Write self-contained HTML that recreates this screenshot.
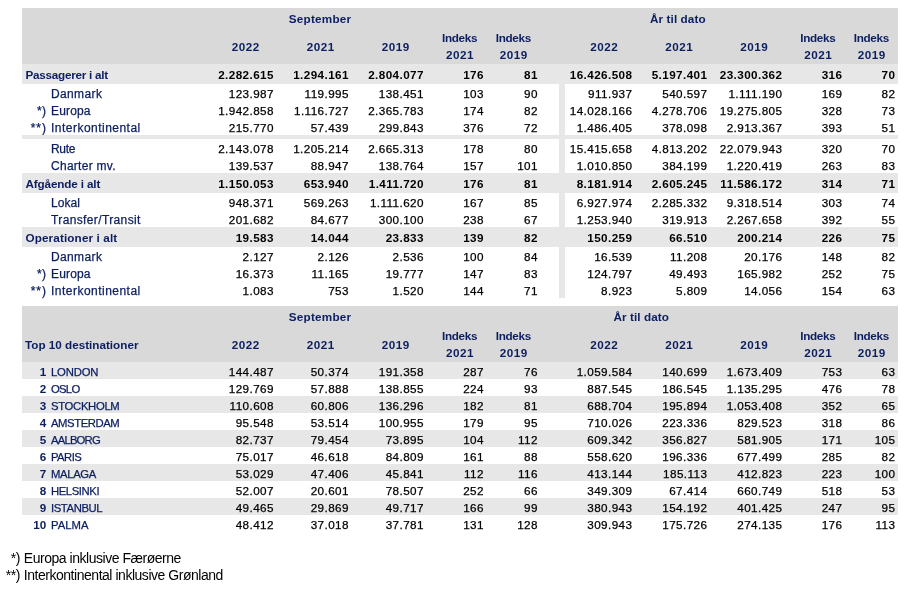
<!DOCTYPE html>
<html lang="da"><head><meta charset="utf-8"><title>Trafiktal</title>
<style>
html,body{margin:0;padding:0;background:#fff;}
body{width:911px;height:594px;position:relative;overflow:hidden;font-family:"Liberation Sans",sans-serif;}
.bx{position:absolute;}
.t{position:absolute;white-space:nowrap;color:#000;height:20px;line-height:20px;}
.n{font-size:11.7px;letter-spacing:0.42px;-webkit-text-stroke:0.25px #000;}
.nb{font-size:11.7px;font-weight:bold;letter-spacing:0.42px;}
.l{font-size:12.0px;color:#0c1e60;-webkit-text-stroke:0.25px #0c1e60;}
.lu{font-size:11.3px;color:#0c1e60;-webkit-text-stroke:0.25px #0c1e60;}
.lb{font-size:11.7px;font-weight:bold;color:#0c1e60;}
.hb{font-size:11.7px;font-weight:bold;color:#0c1e60;}
.f{font-size:14.0px;color:#000;letter-spacing:-0.47px;}
</style></head>
<body>
<div class="bx" style="left:22px;top:8px;width:876px;height:56px;background:#d9d9d9"></div>
<div class="t hb" style="top:9px;letter-spacing:0.250px;left:260.12px;width:120px;text-align:center;">September</div>
<div class="t hb" style="top:9px;letter-spacing:0.100px;left:617.85px;width:120px;text-align:center;">År til dato</div>
<div class="t hb" style="top:37px;letter-spacing:0.433px;left:185.72px;width:120px;text-align:center;">2022</div>
<div class="t hb" style="top:37px;letter-spacing:0.433px;left:544.22px;width:120px;text-align:center;">2022</div>
<div class="t hb" style="top:37px;letter-spacing:0.433px;left:260.72px;width:120px;text-align:center;">2021</div>
<div class="t hb" style="top:37px;letter-spacing:0.433px;left:619.22px;width:120px;text-align:center;">2021</div>
<div class="t hb" style="top:37px;letter-spacing:0.433px;left:335.72px;width:120px;text-align:center;">2019</div>
<div class="t hb" style="top:37px;letter-spacing:0.433px;left:694.22px;width:120px;text-align:center;">2019</div>
<div class="t hb" style="top:28px;letter-spacing:-0.280px;left:399.61px;width:120px;text-align:center;">Indeks</div>
<div class="t hb" style="top:45px;letter-spacing:0.433px;left:399.97px;width:120px;text-align:center;">2021</div>
<div class="t hb" style="top:28px;letter-spacing:-0.280px;left:453.36px;width:120px;text-align:center;">Indeks</div>
<div class="t hb" style="top:45px;letter-spacing:0.433px;left:453.72px;width:120px;text-align:center;">2019</div>
<div class="t hb" style="top:28px;letter-spacing:-0.280px;left:757.86px;width:120px;text-align:center;">Indeks</div>
<div class="t hb" style="top:45px;letter-spacing:0.433px;left:758.22px;width:120px;text-align:center;">2021</div>
<div class="t hb" style="top:28px;letter-spacing:-0.280px;left:811.36px;width:120px;text-align:center;">Indeks</div>
<div class="t hb" style="top:45px;letter-spacing:0.433px;left:811.72px;width:120px;text-align:center;">2019</div>
<div class="bx" style="left:22px;top:64px;width:876px;height:20px;background:#e7e7e7"></div>
<div class="t lb" style="top:65px;letter-spacing:-0.253px;left:25.5px;">Passagerer i alt</div>
<div class="t nb" style="top:65px;right:637.08px;text-align:right;">2.282.615</div>
<div class="t nb" style="top:65px;right:562.08px;text-align:right;">1.294.161</div>
<div class="t nb" style="top:65px;right:487.08px;text-align:right;">2.804.077</div>
<div class="t nb" style="top:65px;right:427.08px;text-align:right;">176</div>
<div class="t nb" style="top:65px;right:373.08px;text-align:right;">81</div>
<div class="t nb" style="top:65px;right:278.58px;text-align:right;">16.426.508</div>
<div class="t nb" style="top:65px;right:203.58px;text-align:right;">5.197.401</div>
<div class="t nb" style="top:65px;right:128.58px;text-align:right;">23.300.362</div>
<div class="t nb" style="top:65px;right:68.58px;text-align:right;">316</div>
<div class="t nb" style="top:65px;right:15.58px;text-align:right;">70</div>
<div class="t l" style="top:84px;letter-spacing:0.367px;left:51px;">Danmark</div>
<div class="t n" style="top:84px;right:637.08px;text-align:right;">123.987</div>
<div class="t n" style="top:84px;right:562.08px;text-align:right;">119.995</div>
<div class="t n" style="top:84px;right:487.08px;text-align:right;">138.451</div>
<div class="t n" style="top:84px;right:427.08px;text-align:right;">103</div>
<div class="t n" style="top:84px;right:373.08px;text-align:right;">90</div>
<div class="t n" style="top:84px;right:278.58px;text-align:right;">911.937</div>
<div class="t n" style="top:84px;right:203.58px;text-align:right;">540.597</div>
<div class="t n" style="top:84px;right:128.58px;text-align:right;">1.111.190</div>
<div class="t n" style="top:84px;right:68.58px;text-align:right;">169</div>
<div class="t n" style="top:84px;right:15.58px;text-align:right;">82</div>
<div class="t l" style="top:101px;letter-spacing:0.300px;right:864.7px;text-align:right;">*)</div>
<div class="t l" style="top:101px;letter-spacing:0.160px;left:51px;">Europa</div>
<div class="t n" style="top:101px;right:637.08px;text-align:right;">1.942.858</div>
<div class="t n" style="top:101px;right:562.08px;text-align:right;">1.116.727</div>
<div class="t n" style="top:101px;right:487.08px;text-align:right;">2.365.783</div>
<div class="t n" style="top:101px;right:427.08px;text-align:right;">174</div>
<div class="t n" style="top:101px;right:373.08px;text-align:right;">82</div>
<div class="t n" style="top:101px;right:278.58px;text-align:right;">14.028.166</div>
<div class="t n" style="top:101px;right:203.58px;text-align:right;">4.278.706</div>
<div class="t n" style="top:101px;right:128.58px;text-align:right;">19.275.805</div>
<div class="t n" style="top:101px;right:68.58px;text-align:right;">328</div>
<div class="t n" style="top:101px;right:15.58px;text-align:right;">73</div>
<div class="t l" style="top:118px;letter-spacing:1.000px;right:864.0px;text-align:right;">**)</div>
<div class="t l" style="top:118px;letter-spacing:0.480px;left:51px;">Interkontinental</div>
<div class="t n" style="top:118px;right:637.08px;text-align:right;">215.770</div>
<div class="t n" style="top:118px;right:562.08px;text-align:right;">57.439</div>
<div class="t n" style="top:118px;right:487.08px;text-align:right;">299.843</div>
<div class="t n" style="top:118px;right:427.08px;text-align:right;">376</div>
<div class="t n" style="top:118px;right:373.08px;text-align:right;">72</div>
<div class="t n" style="top:118px;right:278.58px;text-align:right;">1.486.405</div>
<div class="t n" style="top:118px;right:203.58px;text-align:right;">378.098</div>
<div class="t n" style="top:118px;right:128.58px;text-align:right;">2.913.367</div>
<div class="t n" style="top:118px;right:68.58px;text-align:right;">393</div>
<div class="t n" style="top:118px;right:15.58px;text-align:right;">51</div>
<div class="bx" style="left:22px;top:135px;width:876px;height:4px;background:#e7e7e7"></div>
<div class="t l" style="top:139px;letter-spacing:-0.333px;left:51px;">Rute</div>
<div class="t n" style="top:139px;right:637.08px;text-align:right;">2.143.078</div>
<div class="t n" style="top:139px;right:562.08px;text-align:right;">1.205.214</div>
<div class="t n" style="top:139px;right:487.08px;text-align:right;">2.665.313</div>
<div class="t n" style="top:139px;right:427.08px;text-align:right;">178</div>
<div class="t n" style="top:139px;right:373.08px;text-align:right;">80</div>
<div class="t n" style="top:139px;right:278.58px;text-align:right;">15.415.658</div>
<div class="t n" style="top:139px;right:203.58px;text-align:right;">4.813.202</div>
<div class="t n" style="top:139px;right:128.58px;text-align:right;">22.079.943</div>
<div class="t n" style="top:139px;right:68.58px;text-align:right;">320</div>
<div class="t n" style="top:139px;right:15.58px;text-align:right;">70</div>
<div class="t l" style="top:156px;letter-spacing:0.270px;left:51px;">Charter mv.</div>
<div class="t n" style="top:156px;right:637.08px;text-align:right;">139.537</div>
<div class="t n" style="top:156px;right:562.08px;text-align:right;">88.947</div>
<div class="t n" style="top:156px;right:487.08px;text-align:right;">138.764</div>
<div class="t n" style="top:156px;right:427.08px;text-align:right;">157</div>
<div class="t n" style="top:156px;right:373.08px;text-align:right;">101</div>
<div class="t n" style="top:156px;right:278.58px;text-align:right;">1.010.850</div>
<div class="t n" style="top:156px;right:203.58px;text-align:right;">384.199</div>
<div class="t n" style="top:156px;right:128.58px;text-align:right;">1.220.419</div>
<div class="t n" style="top:156px;right:68.58px;text-align:right;">263</div>
<div class="t n" style="top:156px;right:15.58px;text-align:right;">83</div>
<div class="bx" style="left:22px;top:173px;width:876px;height:20px;background:#e7e7e7"></div>
<div class="t lb" style="top:174px;letter-spacing:-0.138px;left:25.5px;">Afgående i alt</div>
<div class="t nb" style="top:174px;right:637.08px;text-align:right;">1.150.053</div>
<div class="t nb" style="top:174px;right:562.08px;text-align:right;">653.940</div>
<div class="t nb" style="top:174px;right:487.08px;text-align:right;">1.411.720</div>
<div class="t nb" style="top:174px;right:427.08px;text-align:right;">176</div>
<div class="t nb" style="top:174px;right:373.08px;text-align:right;">81</div>
<div class="t nb" style="top:174px;right:278.58px;text-align:right;">8.181.914</div>
<div class="t nb" style="top:174px;right:203.58px;text-align:right;">2.605.245</div>
<div class="t nb" style="top:174px;right:128.58px;text-align:right;">11.586.172</div>
<div class="t nb" style="top:174px;right:68.58px;text-align:right;">314</div>
<div class="t nb" style="top:174px;right:15.58px;text-align:right;">71</div>
<div class="t l" style="top:193px;letter-spacing:0.075px;left:51px;">Lokal</div>
<div class="t n" style="top:193px;right:637.08px;text-align:right;">948.371</div>
<div class="t n" style="top:193px;right:562.08px;text-align:right;">569.263</div>
<div class="t n" style="top:193px;right:487.08px;text-align:right;">1.111.620</div>
<div class="t n" style="top:193px;right:427.08px;text-align:right;">167</div>
<div class="t n" style="top:193px;right:373.08px;text-align:right;">85</div>
<div class="t n" style="top:193px;right:278.58px;text-align:right;">6.927.974</div>
<div class="t n" style="top:193px;right:203.58px;text-align:right;">2.285.332</div>
<div class="t n" style="top:193px;right:128.58px;text-align:right;">9.318.514</div>
<div class="t n" style="top:193px;right:68.58px;text-align:right;">303</div>
<div class="t n" style="top:193px;right:15.58px;text-align:right;">74</div>
<div class="t l" style="top:210px;letter-spacing:0.373px;left:51px;">Transfer/Transit</div>
<div class="t n" style="top:210px;right:637.08px;text-align:right;">201.682</div>
<div class="t n" style="top:210px;right:562.08px;text-align:right;">84.677</div>
<div class="t n" style="top:210px;right:487.08px;text-align:right;">300.100</div>
<div class="t n" style="top:210px;right:427.08px;text-align:right;">238</div>
<div class="t n" style="top:210px;right:373.08px;text-align:right;">67</div>
<div class="t n" style="top:210px;right:278.58px;text-align:right;">1.253.940</div>
<div class="t n" style="top:210px;right:203.58px;text-align:right;">319.913</div>
<div class="t n" style="top:210px;right:128.58px;text-align:right;">2.267.658</div>
<div class="t n" style="top:210px;right:68.58px;text-align:right;">392</div>
<div class="t n" style="top:210px;right:15.58px;text-align:right;">55</div>
<div class="bx" style="left:22px;top:227px;width:876px;height:20px;background:#e7e7e7"></div>
<div class="t lb" style="top:228px;letter-spacing:0.131px;left:25.5px;">Operationer i alt</div>
<div class="t nb" style="top:228px;right:637.08px;text-align:right;">19.583</div>
<div class="t nb" style="top:228px;right:562.08px;text-align:right;">14.044</div>
<div class="t nb" style="top:228px;right:487.08px;text-align:right;">23.833</div>
<div class="t nb" style="top:228px;right:427.08px;text-align:right;">139</div>
<div class="t nb" style="top:228px;right:373.08px;text-align:right;">82</div>
<div class="t nb" style="top:228px;right:278.58px;text-align:right;">150.259</div>
<div class="t nb" style="top:228px;right:203.58px;text-align:right;">66.510</div>
<div class="t nb" style="top:228px;right:128.58px;text-align:right;">200.214</div>
<div class="t nb" style="top:228px;right:68.58px;text-align:right;">226</div>
<div class="t nb" style="top:228px;right:15.58px;text-align:right;">75</div>
<div class="t l" style="top:247px;letter-spacing:0.367px;left:51px;">Danmark</div>
<div class="t n" style="top:247px;right:637.08px;text-align:right;">2.127</div>
<div class="t n" style="top:247px;right:562.08px;text-align:right;">2.126</div>
<div class="t n" style="top:247px;right:487.08px;text-align:right;">2.536</div>
<div class="t n" style="top:247px;right:427.08px;text-align:right;">100</div>
<div class="t n" style="top:247px;right:373.08px;text-align:right;">84</div>
<div class="t n" style="top:247px;right:278.58px;text-align:right;">16.539</div>
<div class="t n" style="top:247px;right:203.58px;text-align:right;">11.208</div>
<div class="t n" style="top:247px;right:128.58px;text-align:right;">20.176</div>
<div class="t n" style="top:247px;right:68.58px;text-align:right;">148</div>
<div class="t n" style="top:247px;right:15.58px;text-align:right;">82</div>
<div class="t l" style="top:264px;letter-spacing:0.300px;right:864.7px;text-align:right;">*)</div>
<div class="t l" style="top:264px;letter-spacing:0.160px;left:51px;">Europa</div>
<div class="t n" style="top:264px;right:637.08px;text-align:right;">16.373</div>
<div class="t n" style="top:264px;right:562.08px;text-align:right;">11.165</div>
<div class="t n" style="top:264px;right:487.08px;text-align:right;">19.777</div>
<div class="t n" style="top:264px;right:427.08px;text-align:right;">147</div>
<div class="t n" style="top:264px;right:373.08px;text-align:right;">83</div>
<div class="t n" style="top:264px;right:278.58px;text-align:right;">124.797</div>
<div class="t n" style="top:264px;right:203.58px;text-align:right;">49.493</div>
<div class="t n" style="top:264px;right:128.58px;text-align:right;">165.982</div>
<div class="t n" style="top:264px;right:68.58px;text-align:right;">252</div>
<div class="t n" style="top:264px;right:15.58px;text-align:right;">75</div>
<div class="t l" style="top:281px;letter-spacing:1.000px;right:864.0px;text-align:right;">**)</div>
<div class="t l" style="top:281px;letter-spacing:0.480px;left:51px;">Interkontinental</div>
<div class="t n" style="top:281px;right:637.08px;text-align:right;">1.083</div>
<div class="t n" style="top:281px;right:562.08px;text-align:right;">753</div>
<div class="t n" style="top:281px;right:487.08px;text-align:right;">1.520</div>
<div class="t n" style="top:281px;right:427.08px;text-align:right;">144</div>
<div class="t n" style="top:281px;right:373.08px;text-align:right;">71</div>
<div class="t n" style="top:281px;right:278.58px;text-align:right;">8.923</div>
<div class="t n" style="top:281px;right:203.58px;text-align:right;">5.809</div>
<div class="t n" style="top:281px;right:128.58px;text-align:right;">14.056</div>
<div class="t n" style="top:281px;right:68.58px;text-align:right;">154</div>
<div class="t n" style="top:281px;right:15.58px;text-align:right;">63</div>
<div class="bx" style="left:559px;top:84px;width:6px;height:51px;background:#e7e7e7"></div>
<div class="bx" style="left:559px;top:139px;width:6px;height:34px;background:#e7e7e7"></div>
<div class="bx" style="left:559px;top:193px;width:6px;height:34px;background:#e7e7e7"></div>
<div class="bx" style="left:559px;top:247px;width:6px;height:51px;background:#e7e7e7"></div>
<div class="bx" style="left:22px;top:306px;width:876px;height:56px;background:#d9d9d9"></div>
<div class="t hb" style="top:307px;letter-spacing:0.250px;left:260.12px;width:120px;text-align:center;">September</div>
<div class="t hb" style="top:307px;letter-spacing:0.100px;left:581.25px;width:120px;text-align:center;">År til dato</div>
<div class="t hb" style="top:335px;letter-spacing:0.433px;left:185.72px;width:120px;text-align:center;">2022</div>
<div class="t hb" style="top:335px;letter-spacing:0.433px;left:544.22px;width:120px;text-align:center;">2022</div>
<div class="t hb" style="top:335px;letter-spacing:0.433px;left:260.72px;width:120px;text-align:center;">2021</div>
<div class="t hb" style="top:335px;letter-spacing:0.433px;left:619.22px;width:120px;text-align:center;">2021</div>
<div class="t hb" style="top:335px;letter-spacing:0.433px;left:335.72px;width:120px;text-align:center;">2019</div>
<div class="t hb" style="top:335px;letter-spacing:0.433px;left:694.22px;width:120px;text-align:center;">2019</div>
<div class="t hb" style="top:326px;letter-spacing:-0.280px;left:399.61px;width:120px;text-align:center;">Indeks</div>
<div class="t hb" style="top:343px;letter-spacing:0.433px;left:399.97px;width:120px;text-align:center;">2021</div>
<div class="t hb" style="top:326px;letter-spacing:-0.280px;left:453.36px;width:120px;text-align:center;">Indeks</div>
<div class="t hb" style="top:343px;letter-spacing:0.433px;left:453.72px;width:120px;text-align:center;">2019</div>
<div class="t hb" style="top:326px;letter-spacing:-0.280px;left:757.86px;width:120px;text-align:center;">Indeks</div>
<div class="t hb" style="top:343px;letter-spacing:0.433px;left:758.22px;width:120px;text-align:center;">2021</div>
<div class="t hb" style="top:326px;letter-spacing:-0.280px;left:811.36px;width:120px;text-align:center;">Indeks</div>
<div class="t hb" style="top:343px;letter-spacing:0.433px;left:811.72px;width:120px;text-align:center;">2019</div>
<div class="t hb" style="top:335px;letter-spacing:0.000px;left:25px;">Top 10 destinationer</div>
<div class="bx" style="left:22px;top:362px;width:876px;height:17px;background:#e7e7e7"></div>
<div class="t lb" style="top:362px;right:864.7px;text-align:right;">1</div>
<div class="t lu" style="top:362px;letter-spacing:-0.180px;left:51px;">LONDON</div>
<div class="t n" style="top:362px;right:637.08px;text-align:right;">144.487</div>
<div class="t n" style="top:362px;right:562.08px;text-align:right;">50.374</div>
<div class="t n" style="top:362px;right:487.08px;text-align:right;">191.358</div>
<div class="t n" style="top:362px;right:427.08px;text-align:right;">287</div>
<div class="t n" style="top:362px;right:373.08px;text-align:right;">76</div>
<div class="t n" style="top:362px;right:278.58px;text-align:right;">1.059.584</div>
<div class="t n" style="top:362px;right:203.58px;text-align:right;">140.699</div>
<div class="t n" style="top:362px;right:128.58px;text-align:right;">1.673.409</div>
<div class="t n" style="top:362px;right:68.58px;text-align:right;">753</div>
<div class="t n" style="top:362px;right:15.58px;text-align:right;">63</div>
<div class="t lb" style="top:379px;right:864.7px;text-align:right;">2</div>
<div class="t lu" style="top:379px;letter-spacing:-0.733px;left:51px;">OSLO</div>
<div class="t n" style="top:379px;right:637.08px;text-align:right;">129.769</div>
<div class="t n" style="top:379px;right:562.08px;text-align:right;">57.888</div>
<div class="t n" style="top:379px;right:487.08px;text-align:right;">138.855</div>
<div class="t n" style="top:379px;right:427.08px;text-align:right;">224</div>
<div class="t n" style="top:379px;right:373.08px;text-align:right;">93</div>
<div class="t n" style="top:379px;right:278.58px;text-align:right;">887.545</div>
<div class="t n" style="top:379px;right:203.58px;text-align:right;">186.545</div>
<div class="t n" style="top:379px;right:128.58px;text-align:right;">1.135.295</div>
<div class="t n" style="top:379px;right:68.58px;text-align:right;">476</div>
<div class="t n" style="top:379px;right:15.58px;text-align:right;">78</div>
<div class="bx" style="left:22px;top:396px;width:876px;height:17px;background:#e7e7e7"></div>
<div class="t lb" style="top:396px;right:864.7px;text-align:right;">3</div>
<div class="t lu" style="top:396px;letter-spacing:-0.325px;left:51px;">STOCKHOLM</div>
<div class="t n" style="top:396px;right:637.08px;text-align:right;">110.608</div>
<div class="t n" style="top:396px;right:562.08px;text-align:right;">60.806</div>
<div class="t n" style="top:396px;right:487.08px;text-align:right;">136.296</div>
<div class="t n" style="top:396px;right:427.08px;text-align:right;">182</div>
<div class="t n" style="top:396px;right:373.08px;text-align:right;">81</div>
<div class="t n" style="top:396px;right:278.58px;text-align:right;">688.704</div>
<div class="t n" style="top:396px;right:203.58px;text-align:right;">195.894</div>
<div class="t n" style="top:396px;right:128.58px;text-align:right;">1.053.408</div>
<div class="t n" style="top:396px;right:68.58px;text-align:right;">352</div>
<div class="t n" style="top:396px;right:15.58px;text-align:right;">65</div>
<div class="t lb" style="top:413px;right:864.7px;text-align:right;">4</div>
<div class="t lu" style="top:413px;letter-spacing:-0.438px;left:51px;">AMSTERDAM</div>
<div class="t n" style="top:413px;right:637.08px;text-align:right;">95.548</div>
<div class="t n" style="top:413px;right:562.08px;text-align:right;">53.514</div>
<div class="t n" style="top:413px;right:487.08px;text-align:right;">100.955</div>
<div class="t n" style="top:413px;right:427.08px;text-align:right;">179</div>
<div class="t n" style="top:413px;right:373.08px;text-align:right;">95</div>
<div class="t n" style="top:413px;right:278.58px;text-align:right;">710.026</div>
<div class="t n" style="top:413px;right:203.58px;text-align:right;">223.336</div>
<div class="t n" style="top:413px;right:128.58px;text-align:right;">829.523</div>
<div class="t n" style="top:413px;right:68.58px;text-align:right;">318</div>
<div class="t n" style="top:413px;right:15.58px;text-align:right;">86</div>
<div class="bx" style="left:22px;top:430px;width:876px;height:17px;background:#e7e7e7"></div>
<div class="t lb" style="top:430px;right:864.7px;text-align:right;">5</div>
<div class="t lu" style="top:430px;letter-spacing:-0.817px;left:51px;">AALBORG</div>
<div class="t n" style="top:430px;right:637.08px;text-align:right;">82.737</div>
<div class="t n" style="top:430px;right:562.08px;text-align:right;">79.454</div>
<div class="t n" style="top:430px;right:487.08px;text-align:right;">73.895</div>
<div class="t n" style="top:430px;right:427.08px;text-align:right;">104</div>
<div class="t n" style="top:430px;right:373.08px;text-align:right;">112</div>
<div class="t n" style="top:430px;right:278.58px;text-align:right;">609.342</div>
<div class="t n" style="top:430px;right:203.58px;text-align:right;">356.827</div>
<div class="t n" style="top:430px;right:128.58px;text-align:right;">581.905</div>
<div class="t n" style="top:430px;right:68.58px;text-align:right;">171</div>
<div class="t n" style="top:430px;right:15.58px;text-align:right;">105</div>
<div class="t lb" style="top:447px;right:864.7px;text-align:right;">6</div>
<div class="t lu" style="top:447px;letter-spacing:-0.575px;left:51px;">PARIS</div>
<div class="t n" style="top:447px;right:637.08px;text-align:right;">75.017</div>
<div class="t n" style="top:447px;right:562.08px;text-align:right;">46.618</div>
<div class="t n" style="top:447px;right:487.08px;text-align:right;">84.809</div>
<div class="t n" style="top:447px;right:427.08px;text-align:right;">161</div>
<div class="t n" style="top:447px;right:373.08px;text-align:right;">88</div>
<div class="t n" style="top:447px;right:278.58px;text-align:right;">558.620</div>
<div class="t n" style="top:447px;right:203.58px;text-align:right;">196.336</div>
<div class="t n" style="top:447px;right:128.58px;text-align:right;">677.499</div>
<div class="t n" style="top:447px;right:68.58px;text-align:right;">285</div>
<div class="t n" style="top:447px;right:15.58px;text-align:right;">82</div>
<div class="bx" style="left:22px;top:464px;width:876px;height:17px;background:#e7e7e7"></div>
<div class="t lb" style="top:464px;right:864.7px;text-align:right;">7</div>
<div class="t lu" style="top:464px;letter-spacing:-0.360px;left:51px;">MALAGA</div>
<div class="t n" style="top:464px;right:637.08px;text-align:right;">53.029</div>
<div class="t n" style="top:464px;right:562.08px;text-align:right;">47.406</div>
<div class="t n" style="top:464px;right:487.08px;text-align:right;">45.841</div>
<div class="t n" style="top:464px;right:427.08px;text-align:right;">112</div>
<div class="t n" style="top:464px;right:373.08px;text-align:right;">116</div>
<div class="t n" style="top:464px;right:278.58px;text-align:right;">413.144</div>
<div class="t n" style="top:464px;right:203.58px;text-align:right;">185.113</div>
<div class="t n" style="top:464px;right:128.58px;text-align:right;">412.823</div>
<div class="t n" style="top:464px;right:68.58px;text-align:right;">223</div>
<div class="t n" style="top:464px;right:15.58px;text-align:right;">100</div>
<div class="t lb" style="top:481px;right:864.7px;text-align:right;">8</div>
<div class="t lu" style="top:481px;letter-spacing:-0.414px;left:51px;">HELSINKI</div>
<div class="t n" style="top:481px;right:637.08px;text-align:right;">52.007</div>
<div class="t n" style="top:481px;right:562.08px;text-align:right;">20.601</div>
<div class="t n" style="top:481px;right:487.08px;text-align:right;">78.507</div>
<div class="t n" style="top:481px;right:427.08px;text-align:right;">252</div>
<div class="t n" style="top:481px;right:373.08px;text-align:right;">66</div>
<div class="t n" style="top:481px;right:278.58px;text-align:right;">349.309</div>
<div class="t n" style="top:481px;right:203.58px;text-align:right;">67.414</div>
<div class="t n" style="top:481px;right:128.58px;text-align:right;">660.749</div>
<div class="t n" style="top:481px;right:68.58px;text-align:right;">518</div>
<div class="t n" style="top:481px;right:15.58px;text-align:right;">53</div>
<div class="bx" style="left:22px;top:498px;width:876px;height:17px;background:#e7e7e7"></div>
<div class="t lb" style="top:498px;right:864.7px;text-align:right;">9</div>
<div class="t lu" style="top:498px;letter-spacing:-0.400px;left:51px;">ISTANBUL</div>
<div class="t n" style="top:498px;right:637.08px;text-align:right;">49.465</div>
<div class="t n" style="top:498px;right:562.08px;text-align:right;">29.869</div>
<div class="t n" style="top:498px;right:487.08px;text-align:right;">49.717</div>
<div class="t n" style="top:498px;right:427.08px;text-align:right;">166</div>
<div class="t n" style="top:498px;right:373.08px;text-align:right;">99</div>
<div class="t n" style="top:498px;right:278.58px;text-align:right;">380.943</div>
<div class="t n" style="top:498px;right:203.58px;text-align:right;">154.192</div>
<div class="t n" style="top:498px;right:128.58px;text-align:right;">401.425</div>
<div class="t n" style="top:498px;right:68.58px;text-align:right;">247</div>
<div class="t n" style="top:498px;right:15.58px;text-align:right;">95</div>
<div class="t lb" style="top:515px;right:864.7px;text-align:right;">10</div>
<div class="t lu" style="top:515px;letter-spacing:0.025px;left:51px;">PALMA</div>
<div class="t n" style="top:515px;right:637.08px;text-align:right;">48.412</div>
<div class="t n" style="top:515px;right:562.08px;text-align:right;">37.018</div>
<div class="t n" style="top:515px;right:487.08px;text-align:right;">37.781</div>
<div class="t n" style="top:515px;right:427.08px;text-align:right;">131</div>
<div class="t n" style="top:515px;right:373.08px;text-align:right;">128</div>
<div class="t n" style="top:515px;right:278.58px;text-align:right;">309.943</div>
<div class="t n" style="top:515px;right:203.58px;text-align:right;">175.726</div>
<div class="t n" style="top:515px;right:128.58px;text-align:right;">274.135</div>
<div class="t n" style="top:515px;right:68.58px;text-align:right;">176</div>
<div class="t n" style="top:515px;right:15.58px;text-align:right;">113</div>
<div class="t f" style="top:548px;right:891.0px;text-align:right;">*)</div>
<div class="t f" style="top:548px;left:23.8px;">Europa inklusive Færøerne</div>
<div class="t f" style="top:565px;right:891.0px;text-align:right;">**)</div>
<div class="t f" style="top:565px;left:23.8px;">Interkontinental inklusive Grønland</div>
</body></html>
